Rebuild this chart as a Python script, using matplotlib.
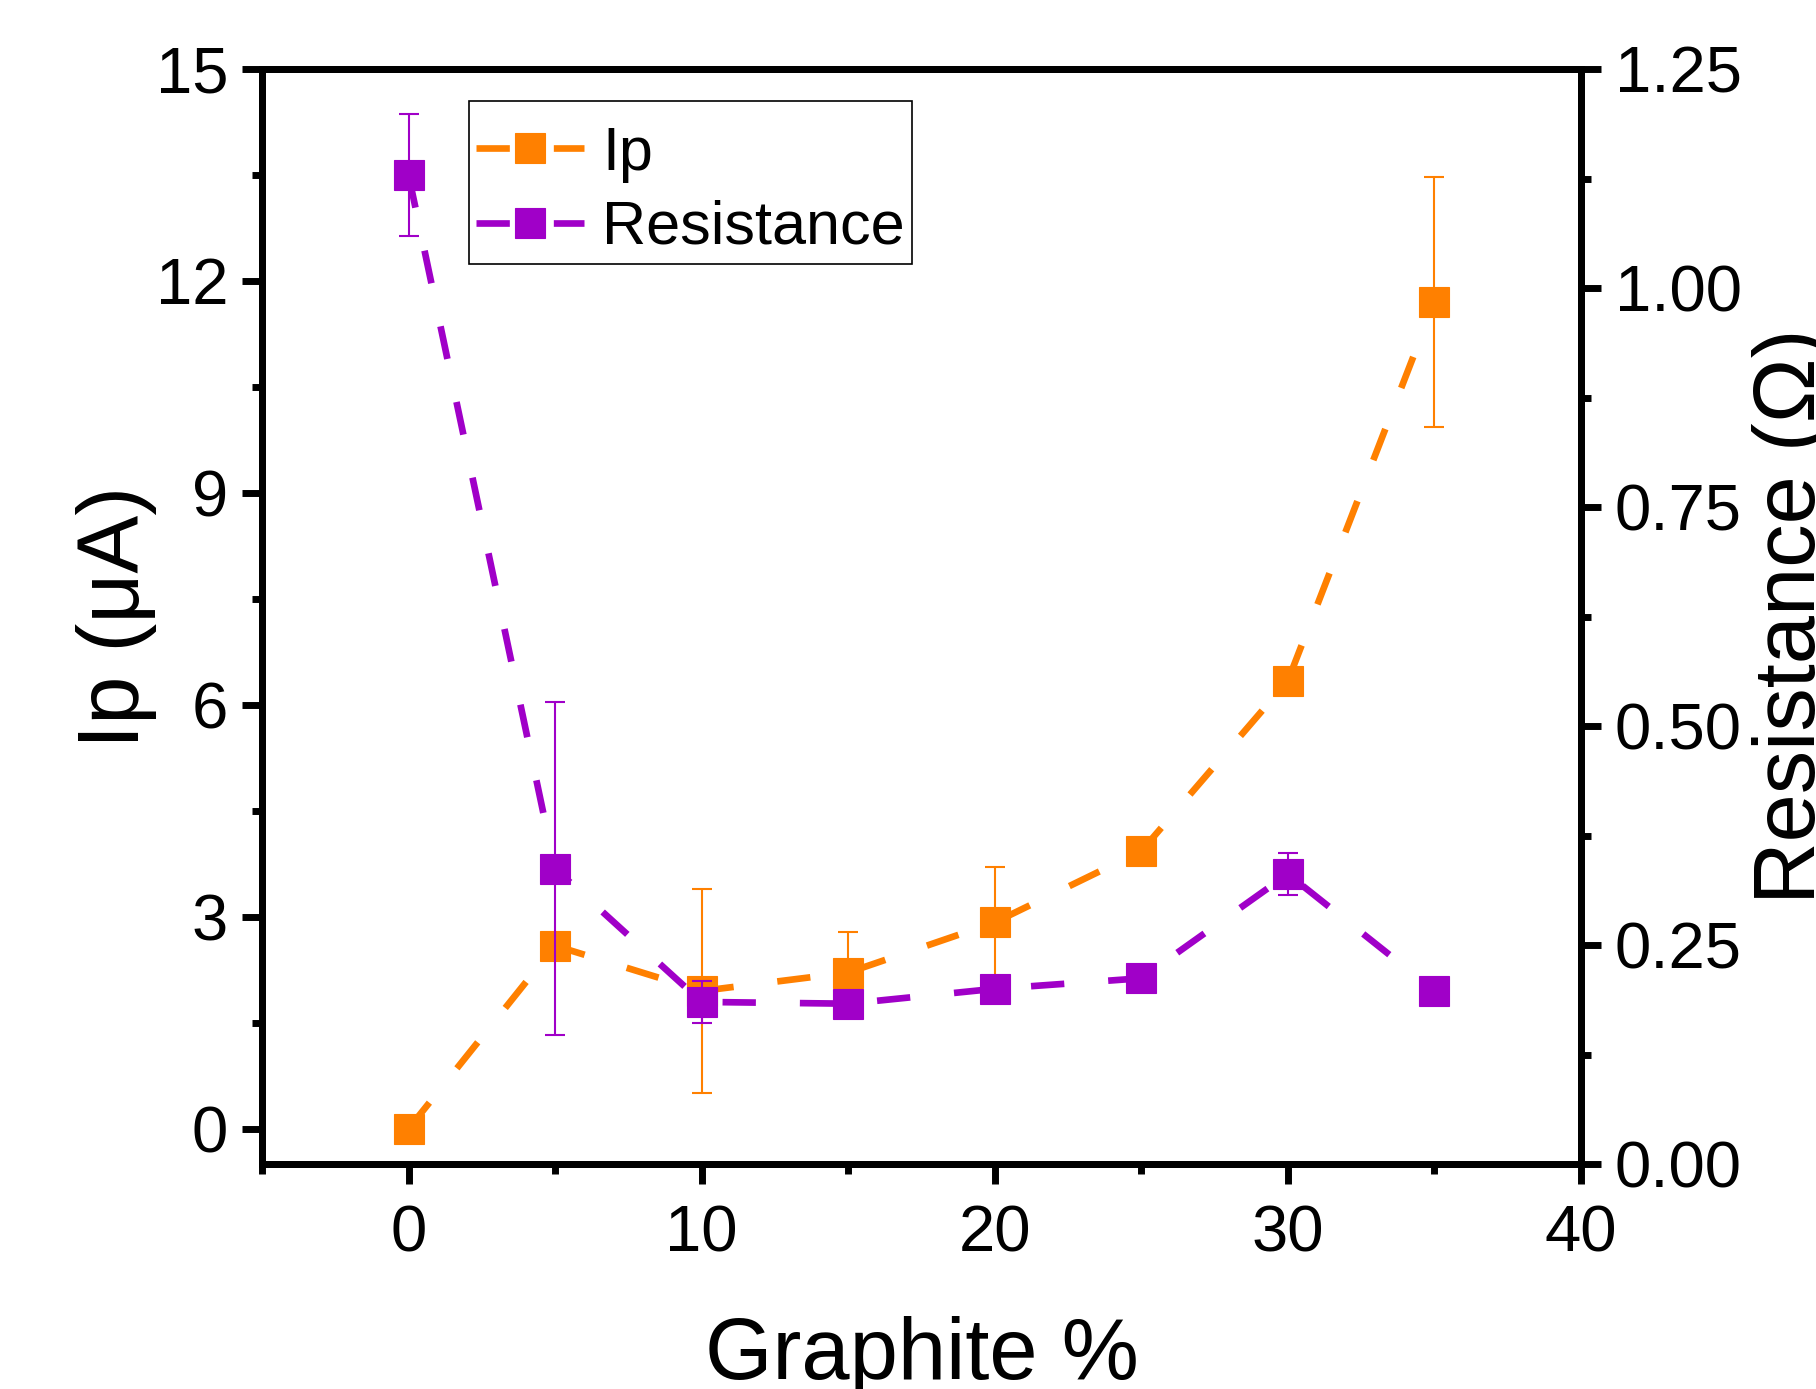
import numpy as np
import matplotlib.pyplot as plt
from matplotlib.ticker import MultipleLocator

plt.rcParams['font.family'] = ['Liberation Sans', 'DejaVu Sans']

graphite = [0, 5, 10, 15, 20, 25, 30, 35]
ip = [0.0, 2.59, 1.95, 2.21, 2.92, 3.93, 6.34, 11.70]
ip_err = [0, 0, 1.44, 0.57, 0.79, 0, 0, 1.77]
resistance = [1.129, 0.337, 0.185, 0.183, 0.200, 0.212, 0.331, 0.198]
res_err = [0.07, 0.19, 0.024, 0, 0, 0, 0.024, 0]

orange = "#FF8000"
purple = "#A000C8"
dash = (0, (5.0, 6.6))

fig = plt.figure(figsize=(18.16, 13.89), dpi=100)
ax = fig.add_axes([262/1816, 1-1164/1389, (1581-262)/1816, (1164-69)/1389])
ax2 = ax.twinx()

ax.errorbar(graphite, ip, yerr=ip_err, fmt="none", ecolor=orange,
            elinewidth=1.5, capsize=7, capthick=1.5)
l1, = ax.plot(graphite, ip, color=orange, lw=4.8, ls=dash, marker="s",
              ms=21, mew=0.8, mec=orange, label="Ip")

ax2.errorbar(graphite, resistance, yerr=res_err, fmt="none", ecolor=purple,
             elinewidth=1.5, capsize=7, capthick=1.5)
l2, = ax2.plot(graphite, resistance, color=purple, lw=4.8, ls=dash, marker="s",
               ms=21, mew=0.8, mec=purple, label="Resistance")

ax.set_xlim(-5, 40)
ax.set_ylim(-0.5, 15)
ax2.set_ylim(0, 1.25)

ax.xaxis.set_major_locator(MultipleLocator(10))
ax.xaxis.set_minor_locator(MultipleLocator(5))
ax.yaxis.set_major_locator(MultipleLocator(3))
ax.yaxis.set_minor_locator(MultipleLocator(1.5))
ax2.yaxis.set_major_locator(MultipleLocator(0.25))
ax2.yaxis.set_minor_locator(MultipleLocator(0.125))
ax2.yaxis.set_major_formatter(lambda v, p: "%.2f" % v)

for a in (ax, ax2):
    for s in a.spines.values():
        s.set_linewidth(5)
    a.tick_params(which="major", length=14.4, width=5, labelsize=47, direction="out")
    a.tick_params(which="minor", length=7.2, width=5, direction="out")
ax.tick_params(axis="x", which="both", top=False, pad=15)
ax.tick_params(axis="y", which="both", right=False, pad=10)
ax2.tick_params(axis="y", which="both", left=False, pad=10)

ax.set_xlabel("Graphite %", fontsize=62.5)
ax.set_ylabel("Ip (μA)", fontsize=62.5)
ax2.set_ylabel("Resistance (Ω)", fontsize=62.5)
ax.xaxis.set_label_coords(0.5, -0.139)
ax.yaxis.set_label_coords(-0.0796, 0.5)
ax2.yaxis.set_label_coords(1.1296, 0.5)

# blank tiny title only pushes the rows down inside the frame
leg = ax2.legend(handles=[l1, l2], loc="upper left",
                 bbox_to_anchor=((469-262)/1319, (1164-101)/1095),
                 fontsize=44, frameon=True, fancybox=False, framealpha=1,
                 edgecolor="black", borderpad=0.11, labelspacing=0.28,
                 handlelength=1.77, handletextpad=0.3, borderaxespad=0,
                 numpoints=1, title=" ", title_fontsize=1)
leg.get_frame().set_linewidth(1.2)

fig.savefig("out.png", dpi=100)
